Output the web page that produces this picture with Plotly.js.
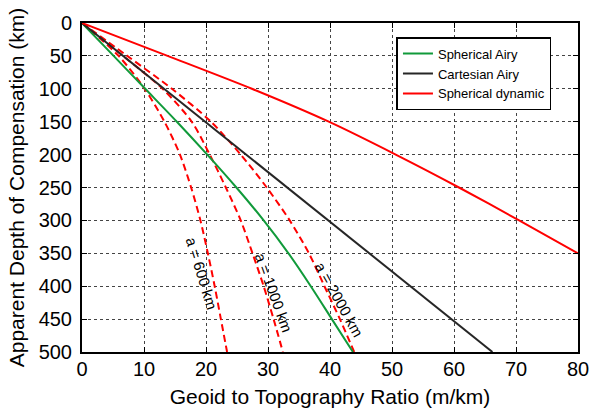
<!DOCTYPE html>
<html>
<head>
<meta charset="utf-8">
<script src="https://cdn.plot.ly/plotly-3.0.1.min.js"></script>
<style>
html,body{margin:0;padding:0;background:#fff;}
#chart{width:590px;height:410px;}
</style>
</head>
<body>
<div id="chart"></div>
<script>
// Depths (km)
const depth = [0, 50, 100, 150, 200, 250, 300, 350, 400, 450, 500];
// Geoid-to-topography ratio (m/km)
const sphericalAiry = [0, 5.1, 10.2, 15.3, 20.2, 24.9, 29.3, 33.3, 36.9, 40.3, 43.7];
const cartesianDepth = [0, 500];
const cartesianAiry = [0, 66.2];
const dynDepth = [0, 50, 100, 150, 200, 250, 300, 350];
const sphericalDynamic = [0, 13.8, 27.4, 39.8, 50.6, 60.8, 70.5, 80];
const a600 = [0, 5.9, 10.1, 13.3, 15.8, 17.6, 19.1, 20.3, 21.4, 22.4, 23.4];
const a1000 = [0, 6.6, 13.0, 17.7, 20.6, 23.2, 25.6, 27.5, 29.3, 30.9, 32.4];
const a2000 = [0, 7.3, 14.5, 20.8, 25.6, 29.8, 33.5, 36.6, 39.1, 41.6, 43.9];
const legendNames = ["Spherical Airy", "Cartesian Airy", "Spherical dynamic"];
const curveLabels = ["a = 600 km", "a = 1000 km", "a = 2000 km"];
const xTicks = [0, 10, 20, 30, 40, 50, 60, 70, 80];
const yTicks = [0, 50, 100, 150, 200, 250, 300, 350, 400, 450, 500];

const dashStyle = {color: "#ff0000", width: 2, dash: "7px,4px", shape: "spline", smoothing: 0.8};
const traces = [
  {x: a600, y: depth, mode: "lines", line: dashStyle, showlegend: false, hoverinfo: "skip"},
  {x: a1000, y: depth, mode: "lines", line: dashStyle, showlegend: false, hoverinfo: "skip"},
  {x: a2000, y: depth, mode: "lines", line: dashStyle, showlegend: false, hoverinfo: "skip"},
  {x: sphericalAiry, y: depth, mode: "lines", name: legendNames[0],
   line: {color: "#109a3a", width: 2, shape: "spline", smoothing: 0.8}},
  {x: cartesianAiry, y: cartesianDepth, mode: "lines", name: legendNames[1],
   line: {color: "#262626", width: 2}},
  {x: sphericalDynamic, y: dynDepth, mode: "lines", name: legendNames[2],
   line: {color: "#ff0000", width: 2, shape: "spline", smoothing: 0.8}}
];

const annFont = {family: "Liberation Sans, Arial, sans-serif", size: 15, color: "#000"};
const annotations = [
  {x: 19.3, y: 381, text: curveLabels[0], textangle: 73},
  {x: 30.9, y: 410, text: curveLabels[1], textangle: 70},
  {x: 41.5, y: 420, text: curveLabels[2], textangle: 61}
].map(a => Object.assign({xref: "x", yref: "y", showarrow: false, font: annFont}, a));

const axisCommon = {
  showline: true, linecolor: "#000", linewidth: 2, mirror: "ticks",
  ticks: "inside", ticklen: 5, tickcolor: "#000", tickwidth: 1,
  showgrid: true, gridcolor: "#444", gridwidth: 1, griddash: "3px,3px",
  zeroline: false,
  tickfont: {family: "Liberation Sans, Arial, sans-serif", size: 20, color: "#000"}
};

const layout = {
  width: 590, height: 410,
  margin: {l: 82, r: 12, t: 23, b: 58},
  paper_bgcolor: "#fff", plot_bgcolor: "#fff",
  font: {family: "Liberation Sans, Arial, sans-serif", color: "#000"},
  xaxis: Object.assign({}, axisCommon, {
    range: [0, 80], tickvals: xTicks, ticklabelstandoff: -2,
    title: {text: "Geoid to Topography Ratio (m/km)", font: {size: 21, color: "#000"}, standoff: 10}
  }),
  yaxis: Object.assign({}, axisCommon, {
    range: [500, 0], tickvals: yTicks, ticklabelstandoff: 4,
    title: {text: "Apparent Depth of Compensation (km)", font: {size: 21, color: "#000"}, standoff: 8}
  }),
  legend: {
    x: 0.634, y: 0.957, xanchor: "left", yanchor: "top",
    bgcolor: "#fff", bordercolor: "#000", borderwidth: 1.5,
    font: {size: 13, color: "#000"}, tracegroupgap: 0, itemwidth: 30
  },
  annotations: annotations,
  showlegend: true
};

Plotly.newPlot("chart", traces, layout, {staticPlot: true, displayModeBar: false});
</script>
</body>
</html>
